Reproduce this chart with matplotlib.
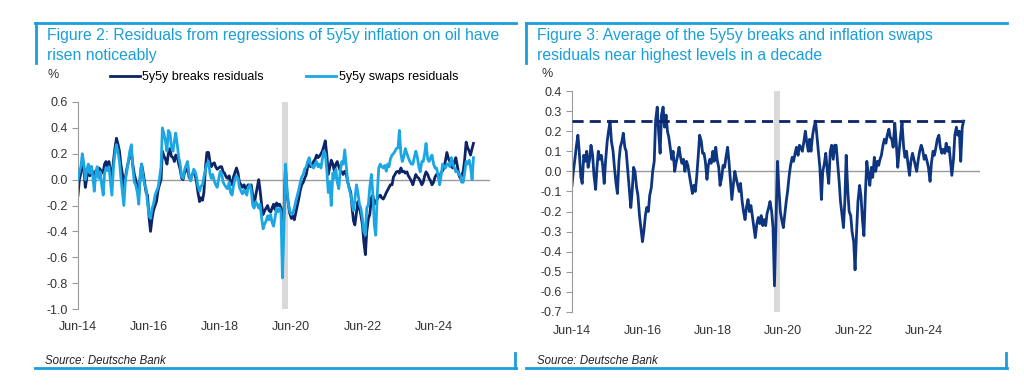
import pandas as pd
import matplotlib.pyplot as plt
import matplotlib.dates as mdates
from matplotlib.lines import Line2D

# Data: semi-monthly readings from Jun-2014 to mid-2025 (one row = Jun..May)
dates = pd.date_range('2014-06-01', periods=268, freq='SMS')

breaks_resid = [
    -0.12, 0.00, 0.05, 0.14, 0.08, -0.06, 0.02, 0.08, 0.03, 0.10, 0.04, 0.00, 0.07, 0.05, 0.09, 0.08, 0.05, 0.06, 0.12, 0.14, 0.10, 0.14, 0.06, 0.02,
    0.15, 0.24, 0.32, 0.28, 0.22, 0.12, 0.04, -0.07, 0.02, 0.08, 0.14, 0.18, 0.22, 0.12, 0.04, 0.00, -0.06, -0.12, 0.02, 0.12, 0.05, -0.02, -0.10, -0.12,
    -0.30, -0.40, -0.30, -0.24, -0.20, -0.17, -0.08, -0.04, 0.00, 0.22, 0.18, 0.16, 0.12, 0.20, 0.24, 0.18, 0.17, 0.14, 0.19, 0.18, 0.12, 0.08, 0.01, 0.00,
    0.06, 0.065, 0.09, 0.02, 0.00, 0.04, 0.05, 0.04, -0.02, -0.10, -0.17, -0.14, -0.16, -0.10, 0.10, 0.21, 0.21, 0.14, 0.10, 0.12, 0.13, 0.10, 0.08, 0.09,
    0.10, 0.10, 0.06, 0.05, 0.02, 0.01, 0.03, -0.02, -0.04, 0.02, 0.06, 0.09, 0.05, -0.02, -0.04, -0.06, -0.04, -0.07, -0.06, -0.04, -0.05, -0.04, -0.12, -0.19,
    -0.12, -0.06, 0.00, -0.08, -0.20, -0.27, -0.24, -0.22, -0.20, -0.24, -0.25, -0.22, -0.19, -0.23, -0.18, -0.20, -0.19, -0.22, -0.35, -0.30, 0.10, -0.10, -0.19, -0.26,
    -0.30, -0.28, -0.31, -0.26, -0.20, -0.15, -0.08, -0.04, -0.02, 0.01, 0.04, 0.10, 0.12, 0.10, 0.12, 0.14, 0.16, 0.19, 0.17, 0.18, 0.20, 0.22, 0.26, 0.30,
    0.18, 0.04, 0.10, 0.15, 0.12, 0.07, 0.12, 0.14, 0.10, 0.07, 0.06, 0.04, 0.065, 0.05, -0.02, -0.06, -0.10, -0.22, -0.32, -0.35, -0.25, -0.17, -0.22, -0.27,
    -0.35, -0.48, -0.58, -0.40, -0.30, -0.27, -0.14, -0.12, -0.19, -0.17, -0.15, -0.13, -0.12, -0.14, -0.15, -0.13, -0.10, -0.08, -0.06, -0.04, -0.04, 0.02, 0.04, 0.06,
    0.065, 0.05, 0.09, 0.06, 0.065, 0.05, 0.06, 0.03, 0.01, -0.01, -0.04, 0.00, 0.04, 0.02, 0.01, -0.01, -0.04, -0.02, 0.03, 0.06, 0.04, 0.01, -0.01, -0.04,
    -0.02, 0.02, 0.04, 0.03, 0.01, 0.05, 0.07, 0.09, 0.15, 0.21, 0.16, 0.14, 0.10, 0.09, 0.14, 0.17, 0.10, 0.04, 0.01, 0.03, 0.065, 0.15, 0.29, 0.25,
    0.22, 0.19, 0.24, 0.28,
]

swaps_resid = [
    0.00, 0.06, 0.10, 0.20, 0.12, 0.00, 0.08, 0.12, 0.05, 0.10, 0.02, -0.09, 0.05, 0.10, 0.01, 0.06, -0.05, -0.12, 0.05, 0.09, 0.07, 0.10, -0.02, -0.12,
    0.10, 0.20, 0.27, 0.22, 0.14, 0.02, -0.10, -0.20, 0.00, 0.06, 0.15, 0.22, 0.27, 0.10, -0.02, -0.04, -0.10, -0.19, 0.04, 0.12, 0.02, -0.04, -0.07, -0.18,
    -0.28, -0.30, -0.22, -0.19, -0.12, -0.09, -0.06, 0.01, 0.10, 0.40, 0.35, 0.30, 0.22, 0.38, 0.36, 0.25, 0.22, 0.30, 0.36, 0.28, 0.17, 0.12, 0.02, 0.01,
    0.08, 0.11, 0.14, 0.04, -0.01, 0.03, 0.08, 0.065, 0.02, -0.05, -0.09, -0.05, -0.04, 0.02, 0.08, 0.12, 0.14, 0.05, 0.01, 0.04, -0.01, -0.04, -0.06, 0.00,
    0.065, 0.05, -0.02, -0.04, -0.06, -0.07, -0.02, -0.10, -0.12, -0.05, 0.01, 0.03, 0.01, -0.06, -0.09, -0.11, -0.08, -0.10, -0.12, -0.06, -0.04, -0.08, -0.20, -0.22,
    -0.17, -0.19, -0.22, -0.19, -0.30, -0.38, -0.34, -0.32, -0.28, -0.31, -0.27, -0.33, -0.36, -0.30, -0.22, -0.25, -0.22, -0.25, -0.76, -0.40, 0.12, -0.05, -0.19, -0.24,
    -0.27, -0.26, -0.22, -0.17, -0.12, -0.08, -0.02, 0.02, 0.04, 0.08, 0.10, 0.14, 0.17, 0.12, 0.10, 0.09, 0.12, 0.14, 0.10, 0.12, 0.09, 0.16, 0.22, 0.20,
    0.06, -0.10, -0.02, -0.20, 0.05, 0.01, 0.08, -0.02, -0.07, 0.06, 0.14, 0.12, 0.23, 0.12, -0.02, -0.07, -0.12, -0.19, -0.24, -0.15, -0.04, -0.10, -0.19, -0.22,
    -0.30, -0.40, -0.43, -0.22, -0.19, -0.06, 0.04, -0.10, -0.35, -0.43, -0.10, 0.09, 0.12, 0.10, 0.09, 0.11, 0.065, 0.12, 0.10, 0.16, 0.19, 0.20, 0.22, 0.24,
    0.245, 0.38, 0.20, 0.14, 0.18, 0.24, 0.20, 0.17, 0.14, 0.12, 0.12, 0.17, 0.22, 0.18, 0.10, 0.06, 0.14, 0.14, 0.20, 0.28, 0.16, 0.14, 0.17, 0.19,
    0.12, 0.09, 0.09, 0.04, -0.04, 0.02, 0.12, 0.10, 0.09, 0.12, 0.12, 0.10, 0.17, 0.12, 0.09, 0.06, 0.065, 0.04, 0.04, -0.02, -0.02, 0.05, 0.14, 0.12,
    0.15, 0.10, 0.00, 0.17,
]

avg_resid = [
    -0.07, 0.00, 0.06, 0.12, 0.18, 0.10, -0.03, -0.06, 0.08, 0.05, 0.10, 0.02, 0.06, 0.13, 0.08, -0.02, -0.09, 0.02, 0.10, 0.06, 0.08, 0.03, -0.06, 0.05,
    0.15, 0.20, 0.25, 0.15, 0.10, 0.02, -0.06, -0.11, 0.05, 0.12, 0.15, 0.19, 0.12, 0.10, 0.00, -0.08, -0.18, -0.10, 0.02, 0.00, -0.08, -0.12, -0.22, -0.28,
    -0.35, -0.30, -0.22, -0.18, -0.20, -0.12, -0.08, 0.00, 0.05, 0.25, 0.32, 0.20, 0.09, 0.28, 0.32, 0.22, 0.28, 0.20, 0.17, 0.12, 0.06, 0.10, 0.00, 0.04,
    0.08, 0.12, 0.07, 0.04, 0.06, 0.00, 0.05, 0.03, -0.02, -0.06, -0.11, -0.07, -0.10, -0.03, 0.08, 0.18, 0.15, 0.09, 0.09, 0.05, -0.04, 0.03, 0.06, 0.04,
    0.10, 0.05, 0.12, 0.06, 0.02, -0.07, -0.03, 0.03, 0.02, 0.07, 0.12, 0.05, -0.05, -0.14, -0.06, 0.00, -0.04, -0.07, -0.10, -0.06, -0.15, -0.20, -0.24, -0.18,
    -0.14, -0.20, -0.17, -0.22, -0.28, -0.33, -0.26, -0.23, -0.26, -0.22, -0.27, -0.24, -0.27, -0.21, -0.18, -0.15, -0.20, -0.28, -0.57, -0.30, 0.05, -0.08, -0.20, -0.24,
    -0.28, -0.22, -0.15, -0.10, -0.02, 0.03, 0.07, 0.05, 0.09, 0.12, 0.08, 0.13, 0.12, 0.10, 0.15, 0.20, 0.14, 0.10, 0.16, 0.10, 0.18, 0.22, 0.25, 0.18,
    0.09, 0.02, -0.14, 0.00, 0.04, 0.09, 0.00, -0.06, 0.10, 0.13, 0.06, 0.13, 0.13, 0.05, -0.05, -0.15, -0.22, -0.28, -0.15, 0.08, -0.10, -0.20, -0.22, -0.30,
    -0.35, -0.49, -0.30, -0.15, -0.07, -0.12, -0.25, -0.32, -0.10, 0.05, -0.02, -0.07, 0.02, -0.03, 0.07, 0.00, 0.05, 0.03, 0.06, 0.08, 0.13, 0.16, 0.14, 0.18,
    0.21, 0.17, 0.16, 0.12, 0.24, 0.15, 0.02, 0.10, 0.18, 0.24, 0.12, 0.07, 0.10, 0.04, -0.02, 0.05, 0.09, 0.06, 0.03, 0.00, 0.06, 0.10, 0.13, 0.11,
    0.06, 0.08, 0.05, 0.02, -0.05, 0.04, 0.10, 0.08, 0.12, 0.16, 0.18, 0.12, 0.09, 0.11, 0.09, 0.14, 0.10, 0.12, 0.05, -0.02, 0.06, 0.18, 0.22, 0.18,
    0.20, 0.05, 0.22, 0.25,
]

decade_high = 0.25
covid_start, covid_end = '2020-03-01', '2020-05-01'
tick_dates = pd.to_datetime(['2014-06-01', '2016-06-01', '2018-06-01',
                             '2020-06-01', '2022-06-01', '2024-06-01'])

plt.rcParams['font.family'] = ['Liberation Sans', 'DejaVu Sans']

navy = '#0d2466'
navy2 = '#0d3580'
sky = '#1aa7e3'
frame_blue = '#1a9ed9'
grey = '#9a9a9a'

fig = plt.figure(figsize=(10.24, 3.88), dpi=100)
W, H = 1024, 388


def fx(px):
    return px / W


def fy(py):
    return 1 - py / H


def style_axes(ax, yticks):
    for s in ['top', 'right', 'bottom']:
        ax.spines[s].set_visible(False)
    ax.spines['left'].set_color(grey)
    ax.set_yticks(yticks)
    ax.set_yticklabels([f'{v:.1f}' for v in yticks])
    ax.tick_params(axis='y', colors=grey, length=4, labelcolor='#333333', labelsize=9)
    ax.tick_params(axis='x', length=0, pad=9, labelcolor='#333333', labelsize=9)
    ax.set_xticks(tick_dates)
    ax.xaxis.set_major_formatter(mdates.DateFormatter('%b-%y'))
    ax.set_xlim(pd.Timestamp('2014-06-01'), pd.Timestamp('2026-01-01'))
    ax.axhline(0, color=grey, lw=1, zorder=1)
    ax.axvspan(pd.Timestamp(covid_start), pd.Timestamp(covid_end), color='#d9d9d9', lw=0, zorder=0)


# Left chart
ax1 = fig.add_axes([fx(78), fy(309), fx(490 - 78), (309 - 102) / H])
ax1.plot(dates, breaks_resid, color=navy, lw=2.0, label='5y5y breaks residuals', zorder=2)
ax1.plot(dates, swaps_resid, color=sky, lw=2.0, label='5y5y swaps residuals', zorder=3)
ax1.set_ylim(-1.0, 0.6)
style_axes(ax1, [0.6, 0.4, 0.2, 0.0, -0.2, -0.4, -0.6, -0.8, -1.0])
ax1.legend(ncol=2, frameon=False, loc='center', bbox_to_anchor=(0.5, 1.12),
           fontsize=9, handlelength=2.4, handletextpad=0.2, columnspacing=3.4)

# Right chart
ax2 = fig.add_axes([fx(572), fy(312), fx(980 - 572), (312 - 91) / H])
ax2.plot(dates, avg_resid, color=navy2, lw=2.0, zorder=2)
ax2.plot([dates[0], dates[-1]], [decade_high, decade_high], color=navy, lw=2,
         dashes=(4, 2.2), zorder=3)
ax2.set_ylim(-0.7, 0.4)
style_axes(ax2, [0.4, 0.3, 0.2, 0.1, 0.0, -0.1, -0.2, -0.3, -0.4, -0.5, -0.6, -0.7])

# Titles, units, sources
fig.text(fx(47), fy(28),
         'Figure 2: Residuals from regressions of 5y5y inflation on oil have\nrisen noticeably',
         color=frame_blue, fontsize=11.3, va='top', linespacing=1.4)
fig.text(fx(537), fy(28),
         'Figure 3: Average of the 5y5y breaks and inflation swaps\nresiduals near highest levels in a decade',
         color=frame_blue, fontsize=11.3, va='top', linespacing=1.4)
fig.text(fx(48), fy(75), '%', fontsize=9, color='#333333', va='center')
fig.text(fx(542), fy(74), '%', fontsize=9, color='#333333', va='center')
fig.text(fx(45), fy(361), 'Source: Deutsche Bank', fontsize=8.3, style='italic', color='#222222', va='center')
fig.text(fx(537), fy(361), 'Source: Deutsche Bank', fontsize=8.3, style='italic', color='#222222', va='center')

# Blue panel frames
frame_lines = [
    ((35, 516), (23, 23)), ((36, 36), (23, 63)), ((35, 516), (368, 368)), ((515, 515), (353, 368)),
    ((526, 1007), (23, 23)), ((526, 526), (23, 63)), ((526, 1007), (368, 368)), ((1006, 1006), (353, 368)),
]
for xs, ys in frame_lines:
    fig.add_artist(Line2D([fx(x) for x in xs], [fy(y) for y in ys],
                          color=frame_blue, lw=2, transform=fig.transFigure))

plt.savefig('out.png', dpi=100)
